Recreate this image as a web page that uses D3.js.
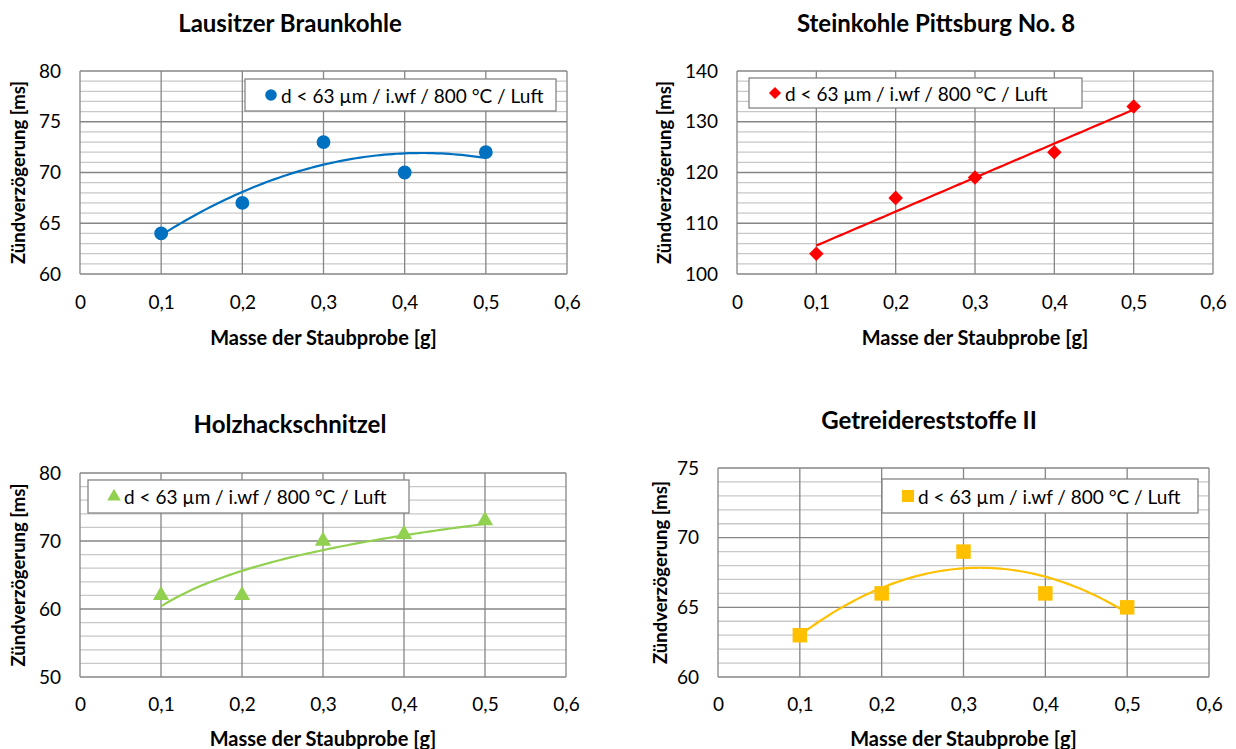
<!DOCTYPE html>
<html>
<head>
<meta charset="utf-8">
<script src="https://cdn.jsdelivr.net/npm/d3@7"></script>
<style>
  body { margin: 0; background: #fff; }
  svg { display: block; }
  text { font-family: Lato, "Open Sans", sans-serif; fill: #000; }
</style>
</head>
<body>
<svg id="chart" width="1236" height="749"></svg>
<script>
// ---- data ----
const masses = [0.1, 0.2, 0.3, 0.4, 0.5];
const braunkohle = [64, 67, 73, 70, 72];
const steinkohle = [104, 115, 119, 124, 133];
const holzhack = [62, 62, 70, 71, 73];
const getreide = [63, 66, 69, 66, 65];
const titles = ["Lausitzer Braunkohle", "Steinkohle Pittsburg No. 8", "Holzhackschnitzel", "Getreidereststoffe II"];
const xTicks = [0, 0.1, 0.2, 0.3, 0.4, 0.5, 0.6];
const yTicks1 = [60, 65, 70, 75, 80];
const yTicks2 = [100, 110, 120, 130, 140];
const yTicks3 = [50, 60, 70, 80];
const yTicks4 = [60, 65, 70, 75];
const legendLabel = "d < 63 µm / i.wf / 800 °C / Luft";
const xTitle = "Masse der Staubprobe [g]";
const yTitle = "Zündverzögerung [ms]";

// ---- trend fits (least squares from the data) ----
function solve3(A, b) {
  const M = A.map((r, i) => r.concat([b[i]]));
  for (let i = 0; i < 3; i++) {
    let p = i;
    for (let k = i + 1; k < 3; k++) if (Math.abs(M[k][i]) > Math.abs(M[p][i])) p = k;
    [M[i], M[p]] = [M[p], M[i]];
    for (let k = 0; k < 3; k++) {
      if (k === i) continue;
      const f = M[k][i] / M[i][i];
      for (let j = i; j < 4; j++) M[k][j] -= f * M[i][j];
    }
  }
  return M.map((r, i) => r[3] / r[i]);
}
function polyFit2(xs, ys) {
  const s = n => d3.sum(xs, x => Math.pow(x, n));
  const t = n => d3.sum(xs, (x, i) => Math.pow(x, n) * ys[i]);
  const c = solve3([[s(0), s(1), s(2)], [s(1), s(2), s(3)], [s(2), s(3), s(4)]], [t(0), t(1), t(2)]);
  return x => c[0] + c[1] * x + c[2] * x * x;
}
function linFit(xs, ys) {
  const mx = d3.mean(xs), my = d3.mean(ys);
  const b = d3.sum(xs, (x, i) => (x - mx) * (ys[i] - my)) / d3.sum(xs, x => (x - mx) * (x - mx));
  return x => my + b * (x - mx);
}
function logFit(xs, ys) {
  const lx = xs.map(Math.log);
  const f = linFit(lx, ys);
  return x => f(Math.log(x));
}

const panels = [
  { title: titles[0], values: braunkohle, yTicks: yTicks1, minor: 1, color: "#0070C0", symbol: d3.symbolCircle, size: 150, fit: polyFit2,
    x0: 80, x1: 567, y0: 71, y1: 274, titleX: 290, titleY: 22, legend: [245, 79, 311, 32], yLabelX: 18, tickY: 302, xTitleY: 337 },
  { title: titles[1], values: steinkohle, yTicks: yTicks2, minor: 2, color: "#FF0000", symbol: d3.symbolDiamond2, size: 135, fit: linFit,
    x0: 737, x1: 1213, y0: 71, y1: 274, titleX: 936, titleY: 22, legend: [749, 78, 333, 30], yLabelX: 664, tickY: 302, xTitleY: 337 },
  { title: titles[2], values: holzhack, yTicks: yTicks3, minor: 2, color: "#92D050", symbol: d3.symbolTriangle, size: 115, fit: logFit,
    x0: 80, x1: 566, y0: 473, y1: 677, titleX: 290, titleY: 423, legend: [88, 480, 321, 33], yLabelX: 18, tickY: 704, xTitleY: 738 },
  { title: titles[3], values: getreide, yTicks: yTicks4, minor: 1, color: "#FFC000", symbol: d3.symbolSquare, size: 210, fit: polyFit2,
    x0: 718, x1: 1209, y0: 468, y1: 677, titleX: 929, titleY: 419, legend: [882, 479, 316, 34], yLabelX: 660, tickY: 704, xTitleY: 738 }
];

const svg = d3.select("#chart");
const majorColor = "#868686", minorColor = "#c8c8c8";
const tickSize = 19;

panels.forEach(p => {
  const g = svg.append("g");
  const x = d3.scaleLinear().domain([0, 0.6]).range([p.x0, p.x1]);
  const yDom = d3.extent(p.yTicks);
  const y = d3.scaleLinear().domain(yDom).range([p.y1, p.y0]);

  // minor horizontal grid
  const minorTicks = d3.range(yDom[0], yDom[1] + 1e-9, p.minor).filter(v => !p.yTicks.includes(v));
  g.append("g").selectAll("line").data(minorTicks).join("line")
    .attr("x1", p.x0).attr("x2", p.x1).attr("y1", d => y(d)).attr("y2", d => y(d))
    .attr("stroke", minorColor).attr("stroke-width", 1.3);
  // major horizontal grid
  g.append("g").selectAll("line").data(p.yTicks).join("line")
    .attr("x1", p.x0).attr("x2", p.x1).attr("y1", d => y(d)).attr("y2", d => y(d))
    .attr("stroke", majorColor).attr("stroke-width", 1.3);
  // vertical grid
  g.append("g").selectAll("line").data(xTicks).join("line")
    .attr("x1", d => x(d)).attr("x2", d => x(d)).attr("y1", p.y0).attr("y2", p.y1)
    .attr("stroke", majorColor).attr("stroke-width", 1.3);

  // axes (labels only)
  const fmt = d => d === 0 ? "0" : d3.format(".1f")(d).replace(".", ",");
  const xAxis = g.append("g").attr("transform", `translate(0,${p.tickY - 7})`)
    .call(d3.axisBottom(x).tickValues(xTicks).tickFormat(fmt).tickSize(0).tickPadding(0));
  xAxis.select(".domain").remove();
  xAxis.selectAll("text").attr("font-size", tickSize).attr("font-family", "Lato").attr("fill", "#000");
  const yAxis = g.append("g").attr("transform", `translate(${p.x0 - 19},0)`)
    .call(d3.axisLeft(y).tickValues(p.yTicks).tickFormat(d3.format("d")).tickSize(0).tickPadding(0));
  yAxis.select(".domain").remove();
  yAxis.selectAll("text").attr("font-size", tickSize).attr("font-family", "Lato").attr("fill", "#000");

  // titles
  g.append("text").attr("x", p.titleX).attr("y", p.titleY)
    .attr("text-anchor", "middle").attr("dominant-baseline", "central")
    .attr("font-size", 24).attr("font-weight", "bold").text(p.title);
  g.append("text").attr("x", (p.x0 + p.x1) / 2).attr("y", p.xTitleY)
    .attr("text-anchor", "middle").attr("dominant-baseline", "central")
    .attr("font-size", 20).attr("font-weight", "bold").text(xTitle);
  g.append("text").attr("transform", `translate(${p.yLabelX},${(p.y0 + p.y1) / 2}) rotate(-90)`)
    .attr("text-anchor", "middle").attr("dominant-baseline", "central")
    .attr("font-size", 18.5).attr("font-weight", "bold").text(yTitle);

  // trend line
  const f = p.fit(masses, p.values);
  const xs = d3.range(0.1, 0.5 + 1e-9, 0.005);
  g.append("path").datum(xs)
    .attr("d", d3.line().x(d => x(d)).y(d => y(f(d))))
    .attr("fill", "none").attr("stroke", p.color).attr("stroke-width", 2.2);

  // markers
  g.append("g").selectAll("path").data(masses).join("path")
    .attr("transform", (d, i) => `translate(${x(d)},${y(p.values[i])})`)
    .attr("d", d3.symbol().type(p.symbol).size(p.size))
    .attr("fill", p.color);

  // legend
  const [lx, ly, lw, lh] = p.legend;
  g.append("rect").attr("x", lx).attr("y", ly).attr("width", lw).attr("height", lh)
    .attr("fill", "#fff").attr("stroke", majorColor).attr("stroke-width", 1.3);
  g.append("path").attr("transform", `translate(${lx + 26},${ly + lh / 2})`)
    .attr("d", d3.symbol().type(p.symbol).size(p.size * 0.7)).attr("fill", p.color);
  g.append("text").attr("x", lx + 36).attr("y", ly + lh / 2)
    .attr("dominant-baseline", "central").attr("font-size", 19).text(legendLabel);
});
</script>
</body>
</html>
